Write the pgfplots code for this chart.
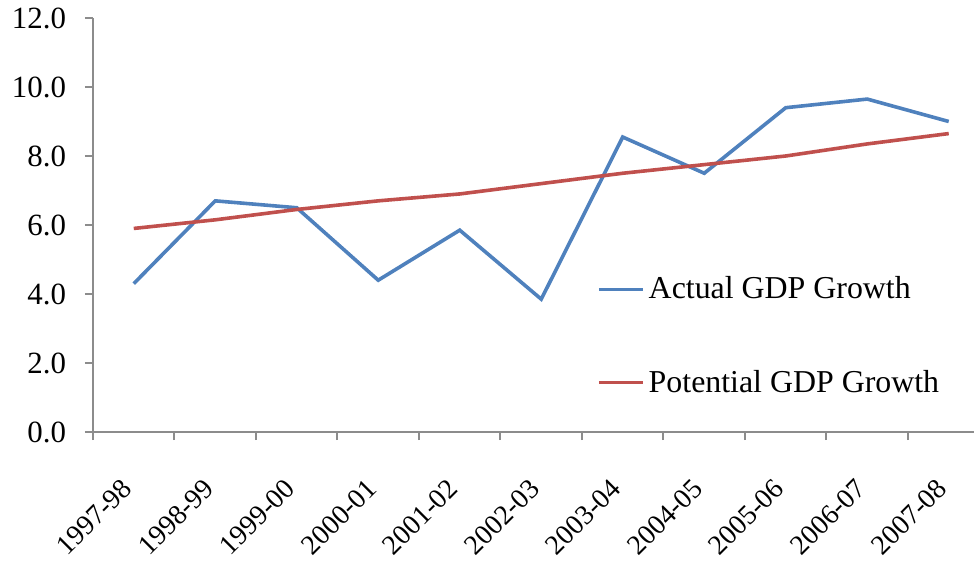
\documentclass[border=0pt]{standalone}
\usepackage{fontspec}
\setmainfont{Liberation Serif}
\usepackage{pgfplots}
\usepackage{pgfplotstable}
\pgfplotsset{compat=1.18}
\definecolor{actualblue}{HTML}{4F81BD}
\definecolor{potred}{HTML}{C0504D}
\definecolor{axgray}{HTML}{8C8C8C}

% growth rates, per cent
\pgfplotstableread{
idx actual potential
0   4.3    5.9
1   6.7    6.15
2   6.5    6.45
3   4.4    6.7
4   5.85   6.9
5   3.85   7.2
6   8.55   7.5
7   7.5    7.75
8   9.4    8.0
9   9.65   8.35
10  9.0    8.65
}\gdpdata

\begin{document}
\begin{tikzpicture}
\path[use as bounding box] (-46.5bp,-64.5bp) rectangle (440.5bp,216bp);
\begin{axis}[
    at={(0,0)}, anchor=south west,
    scale only axis, width=440.5bp, height=207bp,
    xmin=-0.5, xmax=10.31, ymin=0, ymax=12,
    axis lines=left,
    axis line style={-, draw=axgray, line width=1bp},
    tick style={axgray, line width=1bp},
    tick align=outside,
    major tick length=4bp,
    xtick={-0.5,0.5,...,9.5},
    xticklabels={1997-98,1998-99,1999-00,2000-01,2001-02,2002-03,2003-04,2004-05,2005-06,2006-07,2007-08},
    ytick={0,2,...,12},
    yticklabel style={xshift=-6bp, /pgf/number format/.cd, fixed, fixed zerofill, precision=1},
    /pgf/number format/assume math mode=true,
    tick label style={font=\fontsize{15.5}{18}\selectfont, text=black},
    xticklabel style={font=\fontsize{14}{16}\selectfont, rotate=45, anchor=north east,
        xshift=0bp, yshift=-19.5bp},
    legend style={at={(0.565,0.395)}, anchor=north west, draw=none, fill=none,
        font=\fontsize{16}{19}\selectfont, row sep=30bp},
    legend cell align=left,
    legend image code/.code={\draw[#1] (0bp,0bp) -- (22bp,0bp);},
]
\addplot[actualblue, line width=1.8bp, mark=none] table[x=idx, y=actual]{\gdpdata};
\addlegendentry{Actual GDP Growth}
\addplot[potred, line width=1.8bp, mark=none] table[x=idx, y=potential]{\gdpdata};
\addlegendentry{Potential GDP Growth}
\end{axis}
\end{tikzpicture}
\end{document}
